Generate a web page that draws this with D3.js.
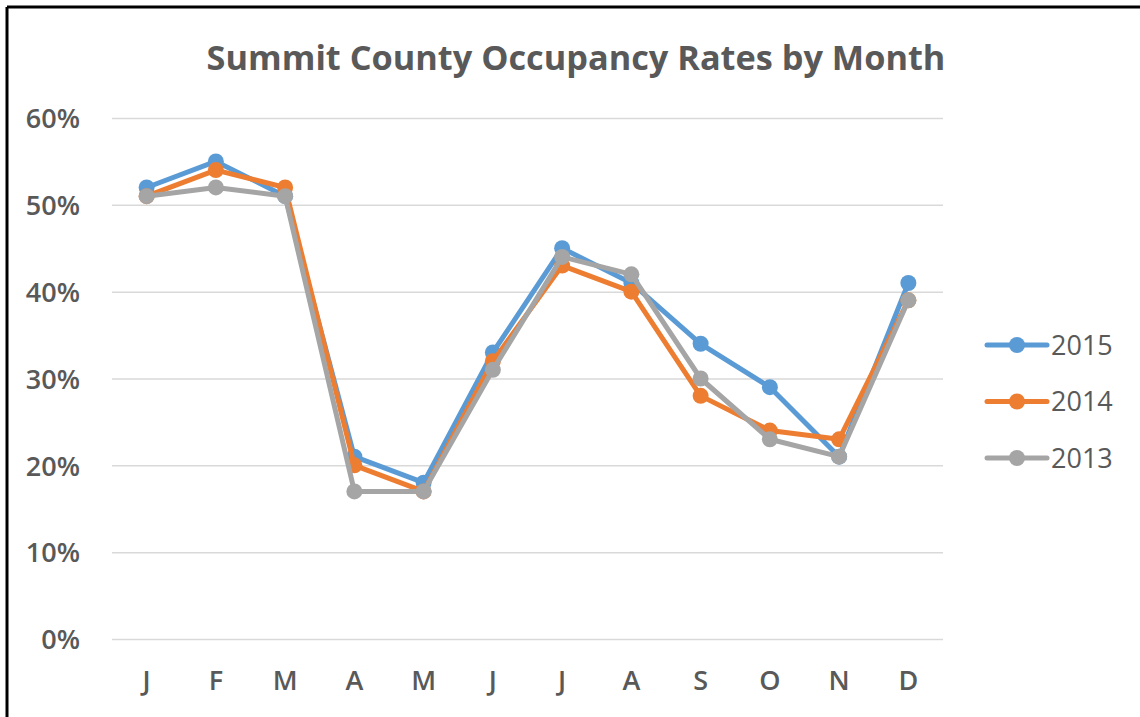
<!DOCTYPE html>
<html>
<head>
<meta charset="utf-8">
<script src="https://cdn.jsdelivr.net/npm/d3@7"></script>
<style>
  body { margin: 0; background: #fff; }
  svg text { font-family: "Open Sans", "Liberation Sans", sans-serif; fill: #595959; }
</style>
</head>
<body>
<div id="chart"></div>
<script>
var width = 1140,
    height = 717;

// data
var months = ["J", "F", "M", "A", "M", "J", "J", "A", "S", "O", "N", "D"];
var yTicks = [0, 0.1, 0.2, 0.3, 0.4, 0.5, 0.6];
var years = ["2015", "2014", "2013"];
var occ2015 = [0.52, 0.55, 0.51, 0.21, 0.18, 0.33, 0.45, 0.41, 0.34, 0.29, 0.21, 0.41];
var occ2014 = [0.51, 0.54, 0.52, 0.20, 0.17, 0.32, 0.43, 0.40, 0.28, 0.24, 0.23, 0.39];
var occ2013 = [0.51, 0.52, 0.51, 0.17, 0.17, 0.31, 0.44, 0.42, 0.30, 0.23, 0.21, 0.39];
var colors = ["#5b9bd5", "#ed7d31", "#a5a5a5"];

var series = [
    { name: years[0], values: occ2015, color: colors[0] },
    { name: years[1], values: occ2014, color: colors[1] },
    { name: years[2], values: occ2013, color: colors[2] }
];

var plotLeft = 112, plotRight = 943,
    plotTop = 118, plotBottom = 639;

var svg = d3.select("#chart").append("svg")
    .attr("width", width)
    .attr("height", height);

svg.append("rect")
    .attr("width", width).attr("height", height)
    .attr("fill", "#fff");

// frame (only top and left edges are visible)
svg.append("line")
    .attr("x1", 7).attr("x2", width).attr("y1", 7).attr("y2", 7)
    .attr("stroke", "#000").attr("stroke-width", 3);
svg.append("line")
    .attr("x1", 7).attr("x2", 7).attr("y1", 7).attr("y2", height)
    .attr("stroke", "#000").attr("stroke-width", 3);

var x = d3.scaleBand()
    .domain(d3.range(months.length))
    .range([plotLeft, plotRight]);

var y = d3.scaleLinear()
    .domain([0, 0.6])
    .range([plotBottom, plotTop]);

// title, centred on the whole chart area
svg.append("text")
    .attr("x", 576)
    .attr("y", 70)
    .attr("text-anchor", "middle")
    .style("font-size", "34.3px")
    .style("font-weight", "bold")
    .text("Summit County Occupancy Rates by Month");

// grid + y axis
var yAxis = d3.axisLeft(y)
    .tickValues(yTicks)
    .tickFormat(d3.format(".0%"))
    .tickSize(-(plotRight - plotLeft))
    .tickPadding(32);

var gY = svg.append("g")
    .attr("transform", "translate(" + plotLeft + ",0)")
    .call(yAxis);
gY.select(".domain").remove();
gY.selectAll(".tick line")
    .attr("stroke", "#d9d9d9")
    .attr("stroke-width", 1.5);
gY.selectAll(".tick text")
    .attr("fill", "#595959")
    .attr("dy", "0.36em")
    .style("font-size", "27px")
    .style("font-weight", "600");

// x axis labels
var xAxis = d3.axisBottom(x)
    .tickFormat(function (i) { return months[i]; })
    .tickSize(0)
    .tickPadding(32);

var gX = svg.append("g")
    .attr("transform", "translate(0," + plotBottom + ")")
    .call(xAxis);
gX.select(".domain").remove();
gX.selectAll(".tick text")
    .attr("fill", "#595959")
    .style("font-size", "27px")
    .style("font-weight", "600");

// lines + markers
var line = d3.line()
    .x(function (d, i) { return x(i) + x.bandwidth() / 2; })
    .y(function (d) { return y(d); });

var gSeries = svg.append("g").selectAll("g.series")
    .data(series)
    .enter()
    .append("g")
    .attr("class", "series");

gSeries.append("path")
    .attr("d", function (d) { return line(d.values); })
    .attr("fill", "none")
    .attr("stroke", function (d) { return d.color; })
    .attr("stroke-width", 5)
    .attr("stroke-linejoin", "round")
    .attr("stroke-linecap", "round");

gSeries.selectAll("circle")
    .data(function (d) { return d.values.map(function (v) { return { v: v, color: d.color }; }); })
    .enter()
    .append("circle")
    .attr("cx", function (d, i) { return x(i) + x.bandwidth() / 2; })
    .attr("cy", function (d) { return y(d.v); })
    .attr("r", 8)
    .attr("fill", function (d) { return d.color; });

// legend
var legend = svg.append("g").selectAll("g.legend")
    .data(series)
    .enter()
    .append("g")
    .attr("class", "legend")
    .attr("transform", function (d, i) { return "translate(987," + (345 + i * 56.5) + ")"; });

legend.append("line")
    .attr("x1", 0).attr("x2", 60)
    .attr("stroke", function (d) { return d.color; })
    .attr("stroke-width", 5)
    .attr("stroke-linecap", "round");
legend.append("circle")
    .attr("cx", 30)
    .attr("r", 8)
    .attr("fill", function (d) { return d.color; });
legend.append("text")
    .attr("x", 64)
    .attr("dy", "0.36em")
    .style("font-size", "27px")
    .text(function (d) { return d.name; });
</script>
</body>
</html>
